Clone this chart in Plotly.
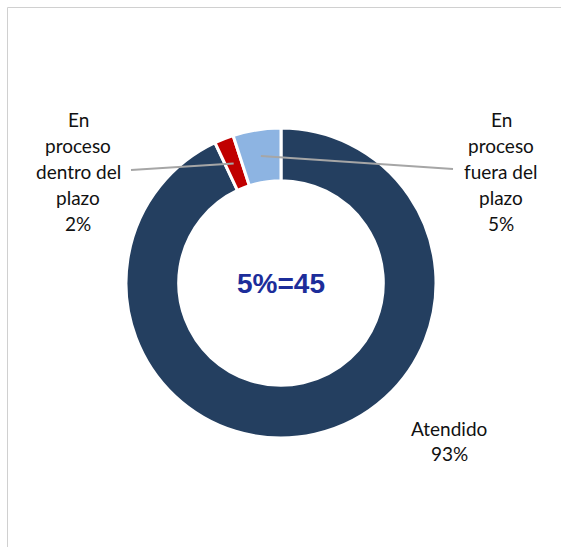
import math
import plotly.graph_objects as go

# Status breakdown of cases (percent of total)
categories = ["Atendido", "En proceso dentro del plazo", "En proceso fuera del plazo"]
values = [93, 2, 5]
colors = ["#243F60", "#C00000", "#8DB4E2"]
center_label = "5%=45"

W, H = 561, 547
CX, CY, R_OUT, HOLE = 281, 283, 155, 0.66


def px_to_paper(x, y):
    return x / W, 1 - y / H


fig = go.Figure(
    go.Pie(
        labels=categories,
        values=values,
        hole=HOLE,
        sort=False,
        direction="clockwise",
        rotation=0,
        textinfo="none",
        hoverinfo="label+percent",
        marker=dict(colors=colors, line=dict(color="white", width=3)),
        domain=dict(
            x=[(CX - R_OUT) / W, (CX + R_OUT) / W],
            y=[(H - CY - R_OUT) / H, (H - CY + R_OUT) / H],
        ),
        showlegend=False,
    )
)

# label blocks: (slice index, centre x, first line y, leader end point or None)
label_layout = {
    0: (449, 428, None),
    1: (78, 120, (131, 170)),
    2: (501, 120, (453, 169)),
}
label_lines = {
    0: ["Atendido"],
    1: ["En", "proceso", "dentro del", "plazo"],
    2: ["En", "proceso", "fuera del", "plazo"],
}
LINE_STEP = 25.8
total = sum(values)
annotations = []
shapes = []

cum = 0
for i, v in enumerate(values):
    mid = (cum + v / 2) / total
    cum += v
    lx, ly, end = label_layout[i]
    lines = label_lines[i] + [f"{round(100 * v / total)}%"]
    for k, t in enumerate(lines):
        ax, ay = px_to_paper(lx, ly + k * LINE_STEP)
        annotations.append(dict(
            x=ax, y=ay, xref="paper", yref="paper", text=t, showarrow=False,
            xanchor="center", yanchor="middle",
            font=dict(family="Lato", size=19, color="#111111"),
        ))
    if end is not None:
        theta = 2 * math.pi * mid
        r_mid = R_OUT * (1 + HOLE) / 2
        sx = CX + r_mid * math.sin(theta)
        sy = CY - r_mid * math.cos(theta)
        x0, y0 = px_to_paper(sx, sy)
        x1, y1 = px_to_paper(*end)
        shapes.append(dict(type="line", xref="paper", yref="paper",
                           x0=x0, y0=y0, x1=x1, y1=y1,
                           line=dict(color="#A6A6A6", width=2)))

# centre caption
cx, cy = px_to_paper(CX, CY)
annotations.append(dict(
    x=cx, y=cy, xref="paper", yref="paper", text=f"<b>{center_label}</b>",
    showarrow=False, xanchor="center", yanchor="middle",
    font=dict(family="Liberation Sans, Arial", size=28, color="#1C2D9A"),
))

# chart area frame
bx0, by0 = px_to_paper(7.5, 7.5)
bx1, by1 = px_to_paper(W + 5, H + 5)
shapes.append(dict(type="rect", xref="paper", yref="paper",
                   x0=bx0, y0=by0, x1=bx1, y1=by1,
                   line=dict(color="#D0D0D0", width=1), layer="below"))

fig.update_layout(
    width=W, height=H,
    margin=dict(l=0, r=0, t=0, b=0),
    paper_bgcolor="white",
    plot_bgcolor="white",
    annotations=annotations,
    shapes=shapes,
)

fig.write_html("out.html", config={"displayModeBar": False})
